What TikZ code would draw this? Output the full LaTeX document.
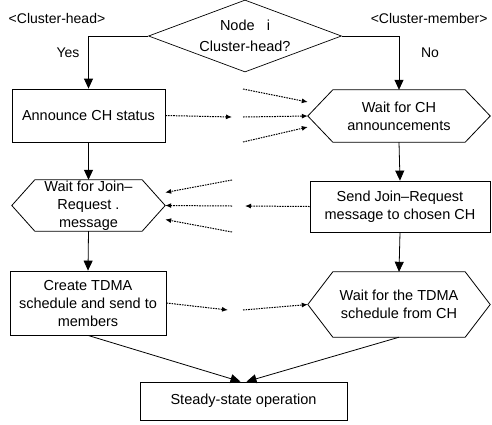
\documentclass[tikz,border=0pt]{standalone}
\usepackage{fontspec}
\setmainfont{Liberation Sans}
\usetikzlibrary{
  shapes.geometric,
  arrows.meta}

\tikzset{
  procbox/.style={draw, line width=0.8pt, align=center, inner sep=0pt,
    font=\fontsize{14.5}{18}\selectfont},
  waitbox/.style={align=center, inner sep=0pt,
    font=\fontsize{14.5}{18}\selectfont},
  decbox/.style={draw, diamond, aspect=2.6, inner sep=0pt, line width=0.7pt,
    align=center, font=\fontsize{14.5}{21}\selectfont},
  sidelabel/.style={font=\fontsize{14}{16}\selectfont},
  flow/.style={-{Triangle[length=10pt,width=9pt]}, line width=0.8pt},
  msg/.style={-{Latex[length=6pt,width=5pt]}, dash pattern=on 1.6pt off 1pt, line width=1pt}
}

\begin{document}
\begin{tikzpicture}[x=1pt, y=-1pt]
\useasboundingbox (0,0) rectangle (492,424);
\node[decbox, minimum width=193pt, minimum height=72pt] (dec) at (245,36) {Node\ \ \ i\\Cluster-head?};
\node[sidelabel] (chlabel) at (57,18) {<Cluster-head>};
\node[sidelabel, anchor=east] (cmlabel) at (491,18) {<Cluster-member>};
\node[sidelabel] (yes) at (68,53) {Yes};
\node[sidelabel] (no) at (430,53) {No};
% left column: cluster-head
\node[procbox, minimum width=153pt, minimum height=53pt] (ann) at (88.5,115.5) {Announce CH status};
\node[waitbox, minimum width=153pt, minimum height=51pt] (waitjoin) at (88.5,205.5) {Wait for Join--\\Request .\\message};
\node[procbox, minimum width=156pt, minimum height=64pt] (create) at (88,303) {Create TDMA\\schedule and send to\\members};
% right column: cluster-member
\node[waitbox, minimum width=182pt, minimum height=52pt] (waitch) at (399,116) {Wait for CH\\announcements};
\node[procbox, minimum width=180pt, minimum height=51pt] (send) at (400,206.5) {Send Join--Request\\message to chosen CH};
\node[waitbox, minimum width=182pt, minimum height=65pt] (waittdma) at (399,304.5) {Wait for the TDMA\\schedule from CH};
\node[procbox, minimum width=207pt, minimum height=38pt] (steady) at (243.5,401) {Steady-state operation};
% hexagon outlines
\foreach \n/\s in {waitch/25pt, waitjoin/23pt, waittdma/25pt} {
  \draw[line width=0.8pt] (\n.west) -- ([xshift=\s]\n.north west) -- ([xshift=-\s]\n.north east)
    -- (\n.east) -- ([xshift=-\s]\n.south east) -- ([xshift=\s]\n.south west) -- cycle;
}
% control flow
\draw[flow] (dec.west) -| (ann.north);
\draw[flow] (dec.east) -| (waitch.north);
\draw[flow] (ann.south) -- (waitjoin.north);
\draw[flow] (waitjoin.south) -- (create.north);
\draw[flow] (waitch.south) -- (send.north);
\draw[flow] (send.south) -- (waittdma.north);
\draw[flow] (create.south) -- ([xshift=-3pt]steady.north);
\draw[flow] (waittdma.south) -- ([xshift=3pt]steady.north);
% messages between nodes
\coordinate (annout) at (232,117);
\coordinate (annin1) at (243,89);
\coordinate (annin2) at (243,117);
\coordinate (annin3) at (243,142);
\draw[msg] (ann.east) -- (annout);
\draw[msg] (annin1) -- ([yshift=14pt]waitch.west);
\draw[msg] (annin2) -- (waitch.west);
\draw[msg] (annin3) -- ([yshift=-11pt]waitch.west);
\coordinate (joinout) at (245,206);
\coordinate (joinin1) at (232,180);
\coordinate (joinin2) at (232,206);
\coordinate (joinin3) at (232,232);
\draw[msg] (send.west) -- (joinout);
\draw[msg] (joinin1) -- ([yshift=13pt]waitjoin.east);
\draw[msg] (joinin2) -- (waitjoin.east);
\draw[msg] (joinin3) -- ([yshift=-14pt]waitjoin.east);
\coordinate (tdmaout) at (228,310);
\coordinate (tdmain) at (243,310);
\draw[msg] (create.east) -- (tdmaout);
\draw[msg] (tdmain) -- (waittdma.west);
\end{tikzpicture}
\end{document}
